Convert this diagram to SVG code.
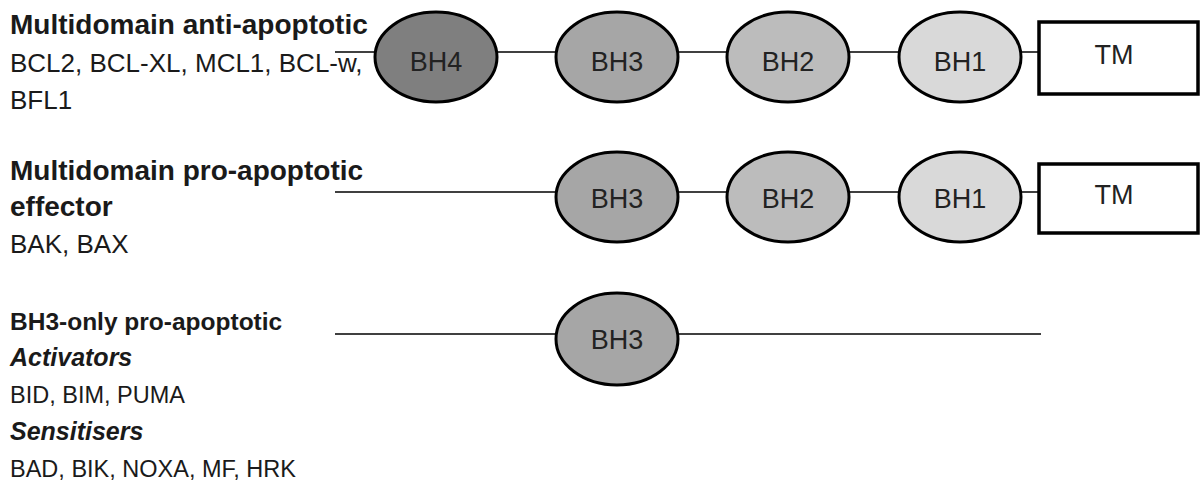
<svg xmlns="http://www.w3.org/2000/svg" width="1200" height="485" viewBox="0 0 1200 485">
<style>
.lbl{font-family:"Liberation Sans",Arial,sans-serif;font-size:26px;fill:#1a1a1a}
.b{font-weight:bold;font-size:28px}
.s{font-size:23.5px}
.sb{font-weight:bold;font-size:24.5px}
.i{font-style:italic;font-weight:bold;font-size:25px}
.dom{stroke:#000;stroke-width:3}
.dt{font-family:"Liberation Sans",Arial,sans-serif;font-size:27px;fill:#222;text-anchor:middle}
.tm{fill:#fff;stroke:#000;stroke-width:3.5}
.conn{stroke:#000;stroke-width:1.5;fill:none}
</style>
<rect width="1200" height="485" fill="#fff"/>
<g id="connectors">
<line class="conn" x1="335" y1="52" x2="1039" y2="52"/>
<line class="conn" x1="335" y1="192" x2="1039" y2="192"/>
<line class="conn" x1="335" y1="334" x2="1041" y2="334"/>
</g>
<g id="label-anti">
<text class="lbl b" x="10" y="34">Multidomain anti-apoptotic</text>
<text class="lbl" x="10" y="72">BCL2, BCL-XL, MCL1, BCL-w,</text>
<text class="lbl" x="10" y="109">BFL1</text>
</g>
<g id="label-pro">
<text class="lbl b" x="10" y="180">Multidomain pro-apoptotic</text>
<text class="lbl b" x="10" y="216">effector</text>
<text class="lbl" x="10" y="253">BAK, BAX</text>
</g>
<g id="label-bh3only">
<text class="lbl sb" x="10" y="330">BH3-only pro-apoptotic</text>
<text class="lbl i" x="10" y="366">Activators</text>
<text class="lbl s" x="10" y="403">BID, BIM, PUMA</text>
<text class="lbl i" x="10" y="440">Sensitisers</text>
<text class="lbl s" x="10" y="477">BAD, BIK, NOXA, MF, HRK</text>
</g>
<g id="r1-bh4"><ellipse class="dom" cx="436" cy="57" rx="61" ry="45" fill="#7f7f7f"/><text class="dt" x="436" y="71">BH4</text></g>
<g id="r1-bh3"><ellipse class="dom" cx="617" cy="57" rx="61" ry="45" fill="#a6a6a6"/><text class="dt" x="617" y="71">BH3</text></g>
<g id="r1-bh2"><ellipse class="dom" cx="788" cy="57" rx="61" ry="45" fill="#bcbcbc"/><text class="dt" x="788" y="71">BH2</text></g>
<g id="r1-bh1"><ellipse class="dom" cx="960" cy="57" rx="61" ry="45" fill="#d9d9d9"/><text class="dt" x="960" y="71">BH1</text></g>
<g id="r1-tm"><rect class="tm" x="1039" y="22" width="159" height="72"/><text class="dt" x="1114" y="64">TM</text></g>
<g id="r2-bh3"><ellipse class="dom" cx="617" cy="197" rx="61" ry="45" fill="#a6a6a6"/><text class="dt" x="617" y="208">BH3</text></g>
<g id="r2-bh2"><ellipse class="dom" cx="788" cy="197" rx="61" ry="45" fill="#bcbcbc"/><text class="dt" x="788" y="208">BH2</text></g>
<g id="r2-bh1"><ellipse class="dom" cx="960" cy="197" rx="61" ry="45" fill="#d9d9d9"/><text class="dt" x="960" y="208">BH1</text></g>
<g id="r2-tm"><rect class="tm" x="1039" y="164" width="159" height="69"/><text class="dt" x="1114" y="204">TM</text></g>
<g id="r3-bh3"><ellipse class="dom" cx="617" cy="339" rx="61" ry="46" fill="#a6a6a6"/><text class="dt" x="617" y="349">BH3</text></g>
</svg>
